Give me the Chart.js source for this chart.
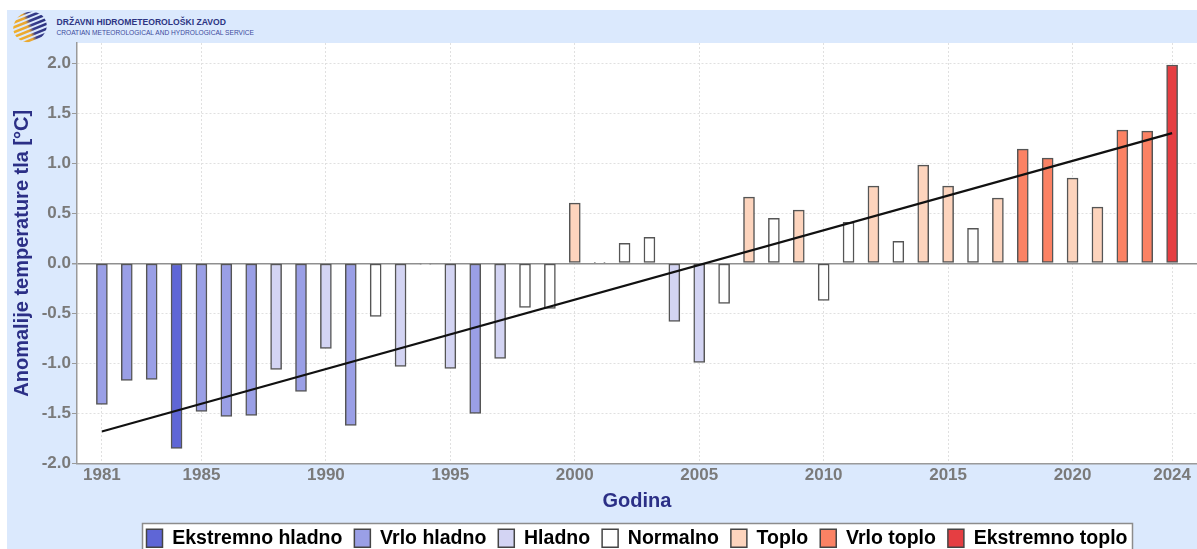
<!DOCTYPE html>
<html>
<head>
<meta charset="utf-8">
<script src="https://cdn.jsdelivr.net/npm/chart.js@4.4.1/dist/chart.umd.min.js"></script>
<style>
  html, body { margin: 0; padding: 0; background: #fff; overflow: hidden; width: 1197px; height: 549px; }
  #panel { position: absolute; left: 7px; top: 10px; width: 1190px; height: 539px; background: #dbe9fd; }
  #logo { position: absolute; left: 0; top: 10px; }
  #chart { position: absolute; left: 0; top: 0; }
</style>
</head>
<body>
<div id="panel"></div>
<svg id="logo" width="300" height="33">
  <defs>
    <clipPath id="disc"><ellipse cx="30" cy="17" rx="17" ry="15"/></clipPath>
    <linearGradient id="stripe" x1="0" y1="0" x2="1" y2="0">
      <stop offset="0" stop-color="#f2b42a"/>
      <stop offset="0.45" stop-color="#e9a531"/>
      <stop offset="0.55" stop-color="#3a3f8e"/>
      <stop offset="1" stop-color="#252b78"/>
    </linearGradient>
  </defs>
  <g clip-path="url(#disc)" transform="rotate(-22 30 17)">
    <rect x="8" y="1" width="44" height="2.6" fill="url(#stripe)"/>
    <rect x="8" y="5.5" width="44" height="2.6" fill="url(#stripe)"/>
    <rect x="8" y="10" width="44" height="2.6" fill="url(#stripe)"/>
    <rect x="8" y="14.5" width="44" height="2.6" fill="url(#stripe)"/>
    <rect x="8" y="19" width="44" height="2.6" fill="url(#stripe)"/>
    <rect x="8" y="23.5" width="44" height="2.6" fill="url(#stripe)"/>
    <rect x="8" y="28" width="44" height="2.6" fill="url(#stripe)"/>
  </g>
  <text x="56.5" y="15" font-family="Liberation Sans, Arial, sans-serif" font-weight="bold" font-size="9.3" fill="#2d3583" textLength="169.5" lengthAdjust="spacingAndGlyphs">DRŽAVNI HIDROMETEOROLOŠKI ZAVOD</text>
  <text x="56.5" y="25" font-family="Liberation Sans, Arial, sans-serif" font-size="7.8" fill="#3b4a9c" textLength="197.5" lengthAdjust="spacingAndGlyphs">CROATIAN METEOROLOGICAL AND HYDROLOGICAL SERVICE</text>
</svg>
<canvas id="chart" width="1197" height="558"></canvas>
<script>
// Soil temperature anomalies per year
const years = [1981, 1982, 1983, 1984, 1985, 1986, 1987, 1988, 1989, 1990,
               1991, 1992, 1993, 1994, 1995, 1996, 1997, 1998, 1999, 2000,
               2001, 2002, 2003, 2004, 2005, 2006, 2007, 2008, 2009, 2010,
               2011, 2012, 2013, 2014, 2015, 2016, 2017, 2018, 2019, 2020,
               2021, 2022, 2023, 2024];
const anomalies = [-1.41, -1.17, -1.16, -1.85, -1.48, -1.53, -1.52, -1.06, -1.28, -0.85,
                   -1.62, -0.53, -1.03, -0.01, -1.05, -1.50, -0.95, -0.44, -0.45, 0.60,
                   0.01, 0.20, 0.26, -0.58, -0.99, -0.40, 0.66, 0.45, 0.53, -0.37,
                   0.41, 0.77, 0.22, 0.98, 0.77, 0.35, 0.65, 1.14, 1.05, 0.85,
                   0.56, 1.33, 1.32, 1.98];
const classes = ['VH', 'VH', 'VH', 'EH', 'VH', 'VH', 'VH', 'H', 'VH', 'H',
                 'VH', 'N', 'H', 'N', 'H', 'VH', 'H', 'N', 'N', 'T',
                 'N', 'N', 'N', 'H', 'H', 'N', 'T', 'N', 'T', 'N',
                 'N', 'T', 'N', 'T', 'T', 'N', 'T', 'VT', 'VT', 'T',
                 'T', 'VT', 'VT', 'ET'];

// Legend classes
const classKeys = ['EH', 'VH', 'H', 'N', 'T', 'VT', 'ET'];
const classNames = ['Ekstremno hladno', 'Vrlo hladno', 'Hladno', 'Normalno', 'Toplo', 'Vrlo toplo', 'Ekstremno toplo'];
const classColors = ['#5f66d6', '#9a9fe6', '#d3d4f3', '#ffffff', '#fdd4bd', '#fb8264', '#e53e42'];

// Linear trend, end points
const trendYears = [1981, 2024];
const trendValues = [-1.68, 1.30];

const xTicks = [1981, 1985, 1990, 1995, 2000, 2005, 2010, 2015, 2020, 2024];
const yTicks = [-2.0, -1.5, -1.0, -0.5, 0.0, 0.5, 1.0, 1.5, 2.0];

const colorOf = key => classColors[classKeys.indexOf(key)];
const tickFont = { family: 'Liberation Sans, Arial, sans-serif', size: 17, weight: 'bold' };
const titleFont = { family: 'Liberation Sans, Arial, sans-serif', size: 20, weight: 'bold' };

// white plot area and framed legend
const backdrop = {
    id: 'backdrop',
    beforeDraw(chart) {
        const { ctx, chartArea: a, legend } = chart;
        ctx.save();
        ctx.fillStyle = '#fff';
        ctx.fillRect(a.left, a.top, a.right - a.left, a.bottom - a.top);
        const boxes = legend.legendHitBoxes;
        if (boxes && boxes.length) {
            const l = Math.min(...boxes.map(b => b.left)) - 4;
            const r = Math.max(...boxes.map(b => b.left + b.width)) + 5;
            const t = Math.min(...boxes.map(b => b.top)) - 5;
            ctx.fillRect(l, t, r - l, chart.height - t + 5);
            ctx.strokeStyle = '#8c8c8c';
            ctx.lineWidth = 1.5;
            ctx.strokeRect(l, t, r - l, chart.height - t + 5);
        }
        ctx.restore();
    }
};

new Chart(document.getElementById('chart'), {
    data: {
        datasets: [{
            type: 'line',
            data: trendYears.map((y, i) => ({ x: y, y: trendValues[i] })),
            borderColor: '#111',
            borderWidth: 2.2,
            pointRadius: 0,
            order: 0
        }, {
            type: 'bar',
            data: years.map((y, i) => ({ x: y, y: anomalies[i] })),
            backgroundColor: classes.map(colorOf),
            borderColor: '#555',
            borderWidth: 1.5,
            borderSkipped: false,
            barThickness: 11,
            order: 1
        }]
    },
    options: {
        responsive: false,
        animation: false,
        devicePixelRatio: 1,
        layout: { padding: { left: 7, top: 43, right: 0, bottom: 0 } },
        plugins: {
            tooltip: { enabled: false },
            legend: {
                position: 'bottom',
                fullSize: false,
                labels: {
                    boxWidth: 16,
                    boxHeight: 18,
                    padding: 12,
                    color: '#111',
                    font: { family: 'Liberation Sans, Arial, sans-serif', size: 19.5, weight: 'bold' },
                    generateLabels: () => classNames.map((name, i) => ({
                        text: name,
                        fillStyle: classColors[i],
                        strokeStyle: '#444',
                        lineWidth: 1.5,
                        hidden: false,
                        datasetIndex: 1
                    }))
                }
            }
        },
        scales: {
            x: {
                type: 'linear',
                min: 1980,
                max: 2025,
                offset: false,
                afterBuildTicks: s => { s.ticks = xTicks.map(v => ({ value: v })); },
                afterFit: s => { s.height = 53; },
                grid: { offset: false, color: '#e0e0e0', drawTicks: false },
                border: { color: '#9a9a9a', width: 1.5, dash: [2, 2] },
                ticks: { color: '#7a7a7a', font: tickFont, padding: 2, autoSkip: false, maxRotation: 0, callback: v => String(v) },
                title: { display: true, text: 'Godina', color: '#2b2f86', font: titleFont, padding: { top: 0, bottom: 3 } }
            },
            y: {
                min: -2,
                max: 2.2,
                afterBuildTicks: s => { s.ticks = yTicks.map(v => ({ value: v })); },
                afterFit: s => { s.width = 70; },
                grid: {
                    color: c => (c.tick && c.tick.value === 0) ? '#8f8f8f' : '#e0e0e0',
                    lineWidth: c => (c.tick && c.tick.value === 0) ? 1.5 : 1,
                    tickLength: 5,
                    tickColor: '#9a9a9a',
                    tickBorderDash: []
                },
                border: { color: '#9a9a9a', width: 1.5, dash: c => (c.tick && c.tick.value === 0) ? [] : [2, 2] },
                ticks: { color: '#7a7a7a', font: tickFont, padding: 1, callback: v => v.toFixed(1) },
                title: { display: true, text: 'Anomalije temperature tla [°C]', color: '#2b2f86', font: titleFont, padding: { top: 3, bottom: 0 } }
            }
        }
    },
    plugins: [backdrop]
});
</script>
</body>
</html>
